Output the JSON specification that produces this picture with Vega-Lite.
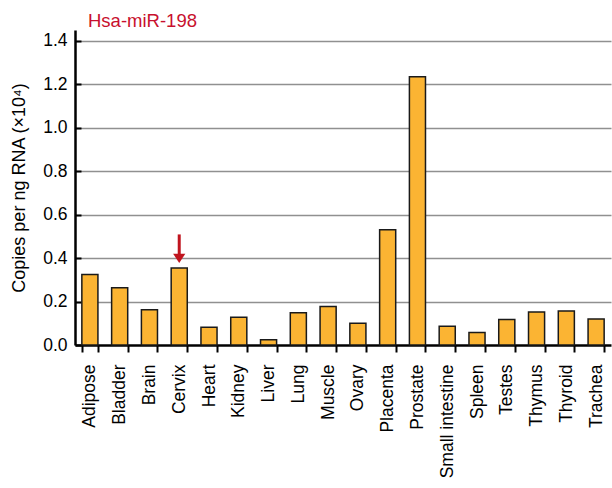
{
  "$schema": "https://vega.github.io/schema/vega-lite/v6.json",
  "autosize": "none",
  "width": 536,
  "height": 315,
  "padding": {"left": 75, "top": 30, "right": 1, "bottom": 143},
  "background": "white",
  "config": {
    "view": {"stroke": null},
    "font": "Liberation Sans",
    "axis": {"labelFont": "Liberation Sans", "titleFont": "Liberation Sans", "labelColor": "#000", "titleColor": "#000", "domainColor": "#000", "tickColor": "#000"}
  },
  "title": {
    "text": "Hsa-miR-198",
    "anchor": "start",
    "frame": "group",
    "color": "#c8102e",
    "fontSize": 18.5,
    "fontWeight": "normal",
    "font": "Liberation Sans",
    "baseline": "alphabetic",
    "offset": 5,
    "dx": 13,
    "dy": 20
  },
  "layer": [
    {
      "data": {
        "values": [
          {"tissue": "Adipose", "copies": 0.324},
          {"tissue": "Bladder", "copies": 0.263},
          {"tissue": "Brain", "copies": 0.162},
          {"tissue": "Cervix", "copies": 0.355},
          {"tissue": "Heart", "copies": 0.082},
          {"tissue": "Kidney", "copies": 0.128},
          {"tissue": "Liver", "copies": 0.024},
          {"tissue": "Lung", "copies": 0.148},
          {"tissue": "Muscle", "copies": 0.177},
          {"tissue": "Ovary", "copies": 0.100},
          {"tissue": "Placenta", "copies": 0.530},
          {"tissue": "Prostate", "copies": 1.235},
          {"tissue": "Small intestine", "copies": 0.086},
          {"tissue": "Spleen", "copies": 0.058},
          {"tissue": "Testes", "copies": 0.117},
          {"tissue": "Thymus", "copies": 0.152},
          {"tissue": "Thyroid", "copies": 0.157},
          {"tissue": "Trachea", "copies": 0.120}
        ]
      },
      "mark": {"type": "bar", "fill": "#fbb433", "stroke": "#1a1a1a", "strokeWidth": 1.5},
      "encoding": {
        "x": {
          "field": "tissue",
          "type": "nominal",
          "sort": null,
          "scale": {"paddingInner": 0.46, "paddingOuter": 0.23},
          "axis": {
            "title": null,
            "labelAngle": -90,
            "labelFontSize": 17.5,
            "labelPadding": 12,
            "tickBand": "extent",
            "tickSize": 7,
            "tickWidth": 2,
            "domainWidth": 2.5,
            "grid": false
          }
        },
        "y": {
          "field": "copies",
          "type": "quantitative",
          "scale": {"domain": [0, 1.45], "nice": false},
          "axis": {
            "title": "Copies per ng RNA (×10⁴)",
            "titleFontSize": 18,
            "titleFontWeight": "normal",
            "titlePadding": 14,
            "values": [0, 0.1, 0.2, 0.3, 0.4, 0.5, 0.6, 0.7, 0.8, 0.9, 1.0, 1.1, 1.2, 1.3, 1.4],
            "labelExpr": "round(datum.value*10) % 2 == 0 ? format(datum.value, '.1f') : ''",
            "labelFontSize": 17.5,
            "labelPadding": 14,
            "tickSize": -6,
            "tickWidth": 2,
            "domainWidth": 2.5,
            "grid": true,
            "gridColor": "#909090",
            "gridWidth": 1.5,
            "gridOpacity": {"condition": {"test": "round(datum.value*10) % 2 == 0 && datum.value > 0", "value": 1}, "value": 0}
          }
        }
      }
    },
    {
      "data": {"values": [{"tissue": "Cervix", "top": 0.509, "bottom": 0.41, "tip": 0.399}]},
      "layer": [
        {
          "mark": {"type": "rule", "color": "#c0141e", "strokeWidth": 3},
          "encoding": {
            "x": {"field": "tissue", "type": "nominal"},
            "y": {"field": "top", "type": "quantitative"},
            "y2": {"field": "bottom"}
          }
        },
        {
          "mark": {"type": "point", "shape": "M-1,-0.75L1,-0.75L0,0.75Z", "size": 150, "filled": true, "color": "#c0141e", "opacity": 1},
          "encoding": {
            "x": {"field": "tissue", "type": "nominal"},
            "y": {"field": "tip", "type": "quantitative"}
          }
        }
      ]
    }
  ]
}
